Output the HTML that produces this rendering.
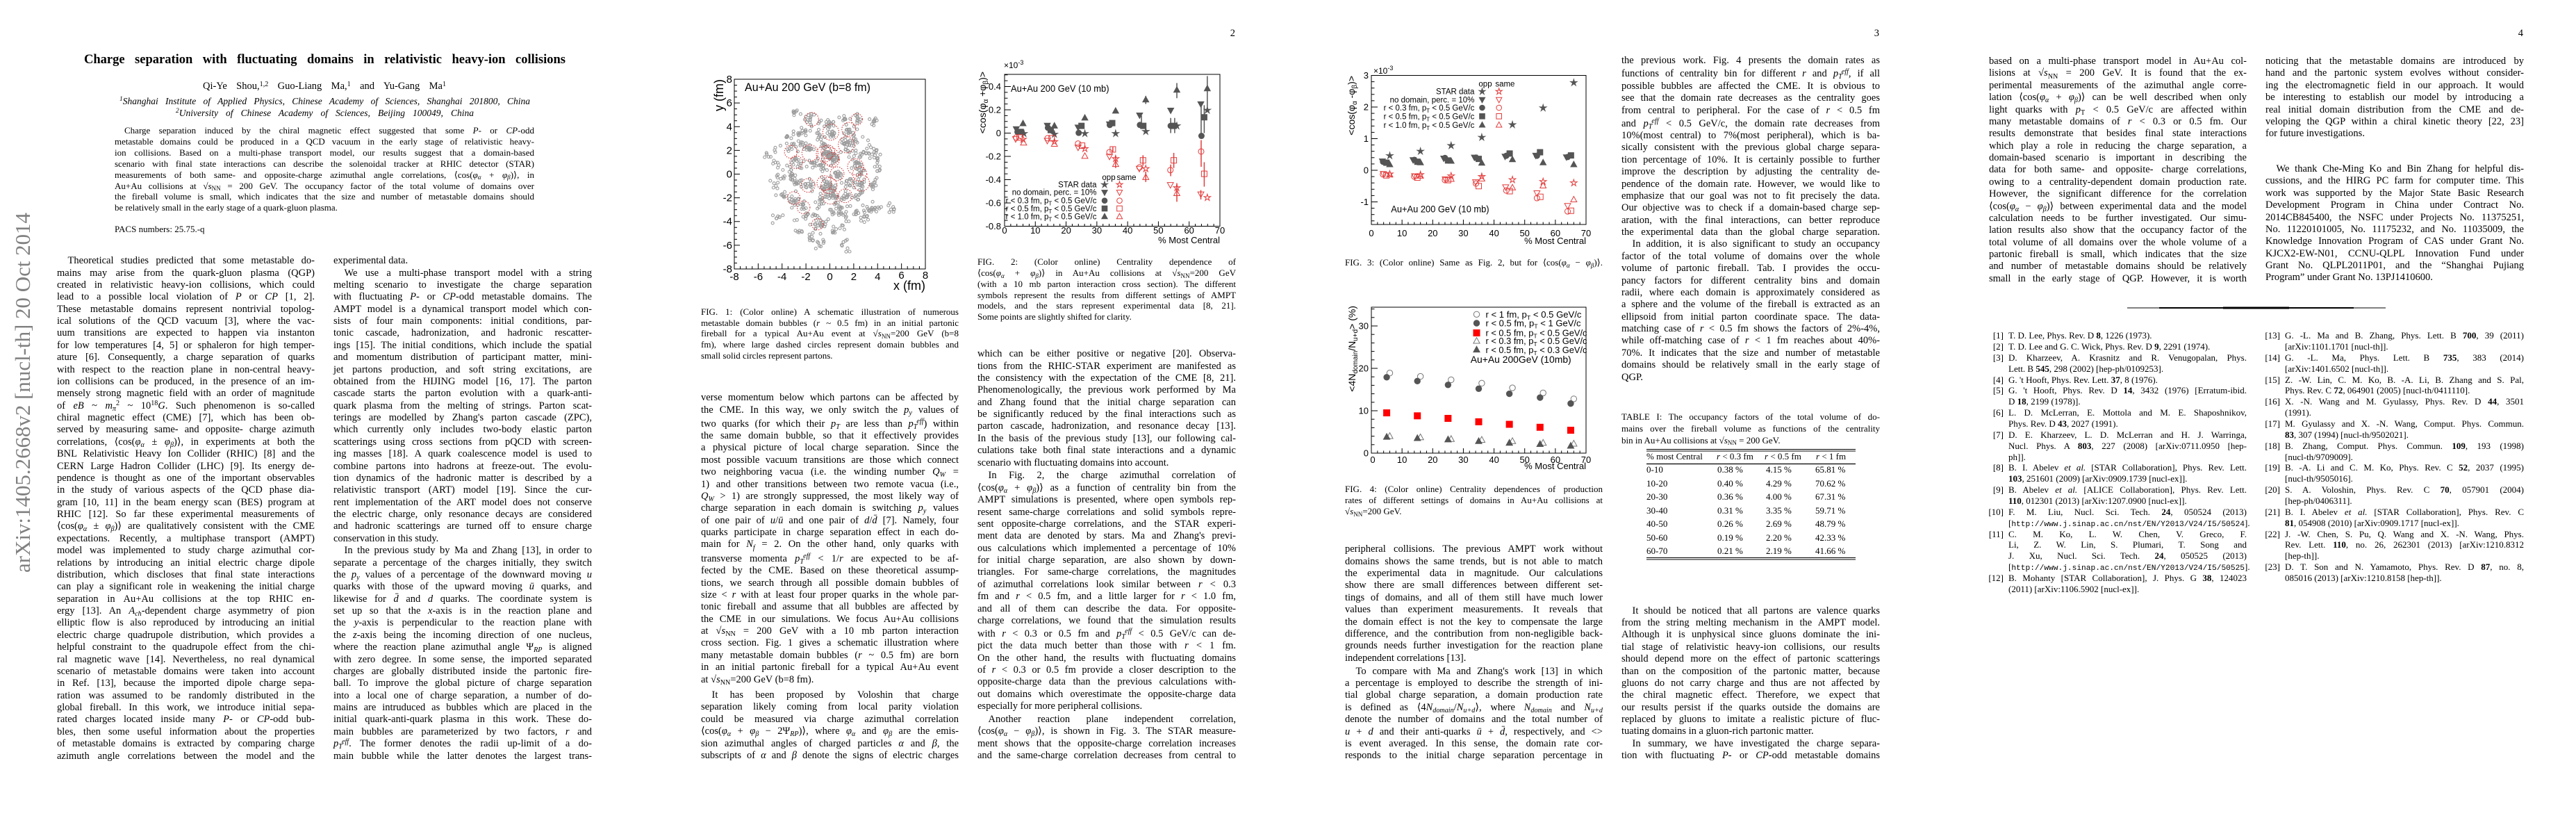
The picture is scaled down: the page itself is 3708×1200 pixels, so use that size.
<!DOCTYPE html>
<html><head><meta charset="utf-8">
<style>
body{margin:0;width:3708px;height:1200px;position:relative;background:#fff;overflow:hidden;font-family:"Liberation Serif","DejaVu Serif",serif;color:#000}
.col{position:absolute}
.col>div{text-align:justify;text-align-last:justify;overflow:visible;position:relative}
.col>div.e{text-align:left;text-align-last:left}
.col>div.i{padding-left:15.5px}
.b{font-size:14.5px}
.b>div{height:17.39px;line-height:17.39px}
.s{font-size:13px}
.s>div{height:15.86px;line-height:15.86px}
.cap>div{height:15.85px;line-height:15.85px}
sub,sup{font-size:70%;line-height:0;vertical-align:baseline;position:relative}
sub{top:0.3em}
sup{top:-0.45em}
tt{font-family:"Liberation Mono",monospace;font-size:11.2px}
.rn{position:absolute;right:calc(100% + 7px);top:0}
.pn{position:absolute;width:40px;text-align:right;font-size:14.5px;line-height:17.39px;top:40px}
.tc{position:absolute;font-size:13px;line-height:16px;white-space:nowrap}
svg text{font-family:"Liberation Sans","DejaVu Sans",sans-serif}
</style></head><body>

<svg id="figs" width="3708" height="1200" style="position:absolute;left:0;top:0">
<text transform="translate(43,824) rotate(-90)" font-size="31" fill="#808080" style="font-family:'Liberation Serif',serif" textLength="518" lengthAdjust="spacingAndGlyphs">arXiv:1405.2668v2 [nucl-th] 20 Oct 2014</text>

<!-- FIG 1 -->
<g id="f1pts"></g>
<rect x="1057" y="114" width="275" height="273" fill="none" stroke="#000" stroke-width="1"/>
<g font-size="15" text-anchor="end">
<text x="1054" y="119">8</text><text x="1054" y="153.1">6</text><text x="1054" y="187.3">4</text><text x="1054" y="221.4">2</text><text x="1054" y="255.5">0</text><text x="1054" y="289.6">-2</text><text x="1054" y="323.7">-4</text><text x="1054" y="357.9">-6</text><text x="1054" y="392">-8</text>
</g>
<g font-size="15" text-anchor="middle">
<text x="1057" y="403">-8</text><text x="1091.4" y="403">-6</text><text x="1125.7" y="403">-4</text><text x="1160.1" y="403">-2</text><text x="1194.5" y="403">0</text><text x="1228.9" y="403">2</text><text x="1263.3" y="403">4</text><text x="1297.6" y="401">6</text><text x="1332" y="401">8</text>
</g>
<text x="1332" y="417" font-size="18" text-anchor="end">x (fm)</text>
<text transform="translate(1041,114) rotate(-90)" font-size="18" text-anchor="end">y (fm)</text>
<text x="1072" y="131" font-size="17" textLength="181" lengthAdjust="spacingAndGlyphs">Au+Au 200 GeV (b=8 fm)</text>

<!-- FIG 2 -->
<rect x="1446" y="107" width="310" height="218.5" fill="none" stroke="#000" stroke-width="1"/>
<g font-size="13" text-anchor="end">
<text x="1441" y="129">0.4</text><text x="1441" y="162.5">0.2</text><text x="1441" y="196">0</text><text x="1441" y="229.5">-0.2</text><text x="1441" y="263">-0.4</text><text x="1441" y="296.5">-0.6</text><text x="1441" y="330">-0.8</text>
</g>
<g font-size="13" text-anchor="middle">
<text x="1446" y="336">0</text><text x="1490.3" y="336">10</text><text x="1534.6" y="336">20</text><text x="1578.9" y="336">30</text><text x="1623.1" y="336">40</text><text x="1667.4" y="336">50</text><text x="1711.7" y="336">60</text><text x="1756" y="336">70</text>
</g>
<text x="1756" y="350" font-size="13" text-anchor="end">% Most Central</text>
<text x="1445" y="98" font-size="12">×10<tspan dy="-5" font-size="9">-3</tspan></text>
<text x="1455" y="132" font-size="14" textLength="141.5" lengthAdjust="spacingAndGlyphs">Au+Au 200 GeV (10 mb)</text>
<text transform="translate(1419,103) rotate(-90)" font-size="14" text-anchor="end">&lt;cos(φ<tspan dy="3" font-size="10">α</tspan><tspan dy="-3"> +φ</tspan><tspan dy="3" font-size="10">β</tspan><tspan dy="-3">)&gt;</tspan></text>
<g font-size="11.5">
<text x="1596" y="259" text-anchor="middle">opp</text><text x="1621.5" y="259" text-anchor="middle">same</text>
<text x="1578.5" y="269.7" text-anchor="end">STAR data</text>
<text x="1578.5" y="280.7" text-anchor="end">no domain, perc. = 10%</text>
<text x="1578.5" y="292.7" text-anchor="end">r &lt; 0.3 fm, p<tspan dy="3" font-size="8">T</tspan><tspan dy="-3"> &lt; 0.5 GeV/c</tspan></text>
<text x="1578.5" y="304" text-anchor="end">r &lt; 0.5 fm, p<tspan dy="3" font-size="8">T</tspan><tspan dy="-3"> &lt; 0.5 GeV/c</tspan></text>
<text x="1578.5" y="315.7" text-anchor="end">r &lt; 1.0 fm, p<tspan dy="3" font-size="8">T</tspan><tspan dy="-3"> &lt; 0.5 GeV/c</tspan></text>
</g>

<!-- FIG 3 -->
<rect x="1974" y="108.5" width="309" height="214.5" fill="none" stroke="#000" stroke-width="1"/>
<g font-size="13" text-anchor="end">
<text x="1970" y="113">3</text><text x="1970" y="158.5">2</text><text x="1970" y="204">1</text><text x="1970" y="249.5">0</text><text x="1970" y="295">-1</text>
</g>
<g font-size="13" text-anchor="middle">
<text x="1974" y="340">0</text><text x="2018.1" y="340">10</text><text x="2062.3" y="340">20</text><text x="2106.4" y="340">30</text><text x="2150.6" y="340">40</text><text x="2194.7" y="340">50</text><text x="2238.9" y="340">60</text><text x="2283" y="340">70</text>
</g>
<text x="2283" y="351" font-size="13" text-anchor="end">% Most Central</text>
<text x="1977" y="106" font-size="12">×10<tspan dy="-5" font-size="9">-3</tspan></text>
<text x="2002.3" y="305.5" font-size="14" textLength="141.3" lengthAdjust="spacingAndGlyphs">Au+Au 200 GeV (10 mb)</text>
<text transform="translate(1950,109) rotate(-90)" font-size="14" text-anchor="end">&lt;cos(φ<tspan dy="3" font-size="10">α</tspan><tspan dy="-3"> -φ</tspan><tspan dy="3" font-size="10">β</tspan><tspan dy="-3">)&gt;</tspan></text>
<g font-size="11.5">
<text x="2138" y="124.7" text-anchor="middle">opp</text><text x="2166.4" y="124.7" text-anchor="middle">same</text>
<text x="2122.4" y="135.7" text-anchor="end">STAR data</text>
<text x="2122.4" y="147.3" text-anchor="end">no domain, perc. = 10%</text>
<text x="2122.4" y="159" text-anchor="end">r &lt; 0.3 fm, p<tspan dy="3" font-size="8">T</tspan><tspan dy="-3"> &lt; 0.5 GeV/c</tspan></text>
<text x="2122.4" y="171.3" text-anchor="end">r &lt; 0.5 fm, p<tspan dy="3" font-size="8">T</tspan><tspan dy="-3"> &lt; 0.5 GeV/c</tspan></text>
<text x="2122.4" y="184" text-anchor="end">r &lt; 1.0 fm, p<tspan dy="3" font-size="8">T</tspan><tspan dy="-3"> &lt; 0.5 GeV/c</tspan></text>
</g>

<!-- FIG 4 -->
<rect x="1974" y="442" width="309" height="210" fill="none" stroke="#000" stroke-width="1"/>
<g font-size="13" text-anchor="end">
<text x="1970" y="473.5">30</text><text x="1970" y="534.5">20</text><text x="1970" y="595.5">10</text><text x="1970" y="656.5">0</text>
</g>
<g font-size="13" text-anchor="middle">
<text x="1976" y="666">0</text><text x="2018.1" y="666">10</text><text x="2062.3" y="666">20</text><text x="2106.4" y="666">30</text><text x="2150.6" y="666">40</text><text x="2194.7" y="666">50</text><text x="2238.9" y="666">60</text><text x="2283" y="666">70</text>
</g>
<text x="2283" y="675" font-size="13" text-anchor="end">% Most Central</text>
<text transform="translate(1951,440) rotate(-90)" font-size="14" text-anchor="end">&lt;4N<tspan dy="3" font-size="10">domain</tspan><tspan dy="-3">/N</tspan><tspan dy="3" font-size="10">u+d</tspan><tspan dy="-3">&gt; (%)</tspan></text>
<g font-size="12.5">
<text x="2138.5" y="456.8" textLength="138" lengthAdjust="spacingAndGlyphs">r &lt; 1 fm, p<tspan dy="3" font-size="8.5">T</tspan><tspan dy="-3"> &lt; 0.5 GeV/c</tspan></text>
<text x="2138.5" y="469.5" textLength="137" lengthAdjust="spacingAndGlyphs">r &lt; 0.5 fm, p<tspan dy="3" font-size="8.5">T</tspan><tspan dy="-3"> &lt; 1 GeV/c</tspan></text>
<text x="2138.5" y="483.5" textLength="146" lengthAdjust="spacingAndGlyphs">r &lt; 0.5 fm, p<tspan dy="3" font-size="8.5">T</tspan><tspan dy="-3"> &lt; 0.5 GeV/c</tspan></text>
<text x="2138.5" y="495.2" textLength="146" lengthAdjust="spacingAndGlyphs">r &lt; 0.3 fm, p<tspan dy="3" font-size="8.5">T</tspan><tspan dy="-3"> &lt; 0.5 GeV/c</tspan></text>
<text x="2138.5" y="507.8" textLength="146" lengthAdjust="spacingAndGlyphs">r &lt; 0.5 fm, p<tspan dy="3" font-size="8.5">T</tspan><tspan dy="-3"> &lt; 0.3 GeV/c</tspan></text>
</g>
<text x="2116.7" y="522" font-size="14" textLength="145" lengthAdjust="spacingAndGlyphs">Au+Au 200GeV (10mb)</text>

<!-- table rules -->
<g stroke="#000">
<line x1="2370" x2="2671" y1="646.5" y2="646.5" stroke-width="1"/>
<line x1="2370" x2="2671" y1="649" y2="649" stroke-width="1"/>
<line x1="2370" x2="2671" y1="667.5" y2="667.5" stroke-width="1.3"/>
<line x1="2370" x2="2671" y1="802.5" y2="802.5" stroke-width="1"/>
<line x1="2370" x2="2671" y1="805" y2="805" stroke-width="1"/>
</g>
<!-- page 4 separator -->
<line x1="3062" x2="3434" y1="443" y2="443" stroke="#000" stroke-width="1"/>
<line x1="3108" x2="3388" y1="443" y2="443" stroke="#000" stroke-width="2"/>
<line x1="3200" x2="3295" y1="443" y2="443" stroke="#000" stroke-width="3"/>
<g id="gfx"></g>
</svg>

<!-- ================= PAGE 1 ================= -->
<div class="col" style="left:121px;top:76px;width:693px;font-size:18.5px;font-weight:bold"><div style="height:21px;line-height:21px">Charge separation with fluctuating domains in relativistic heavy-ion collisions</div></div>
<div class="col b" style="left:292px;top:116.2px;width:350px"><div>Qi-Ye Shou,<sup>1,2</sup> Guo-Liang Ma,<sup>1</sup> and Yu-Gang Ma<sup>1</sup></div></div>
<div class="col" style="left:172px;top:137.5px;width:591px;font-size:13.5px;font-style:italic"><div style="height:16px;line-height:16px"><sup>1</sup>Shanghai Institute of Applied Physics, Chinese Academy of Sciences, Shanghai 201800, China</div></div>
<div class="col" style="left:253px;top:154.5px;width:429px;font-size:13.5px;font-style:italic"><div style="height:16px;line-height:16px"><sup>2</sup>University of Chinese Academy of Sciences, Beijing 100049, China</div></div>

<div class="col s cap" style="left:165px;top:180.4px;width:604px">
<div class="i" style="padding-left:14px">Charge separation induced by the chiral magnetic effect suggested that some <i>P</i>- or <i>CP</i>-odd</div>
<div>metastable domains could be produced in a QCD vacuum in the early stage of relativistic heavy-</div>
<div>ion collisions. Based on a multi-phase transport model, our results suggest that a domain-based</div>
<div>scenario with final state interactions can describe the solenoidal tracker at RHIC detector (STAR)</div>
<div>measurements of both same- and opposite-charge azimuthal angle correlations, ⟨cos(<i>φ<sub>α</sub></i> + <i>φ<sub>β</sub></i>)⟩, in</div>
<div>Au+Au collisions at √<i>s</i><sub>NN</sub> = 200 GeV. The occupancy factor of the total volume of domains over</div>
<div>the fireball volume is small, which indicates that the size and number of metastable domains should</div>
<div class="e">be relatively small in the early stage of a quark-gluon plasma.</div>
</div>
<div class="col s" style="left:165px;top:322px;width:300px"><div class="e">PACS numbers: 25.75.-q</div></div>

<div class="col b" style="left:82px;top:367.2px;width:371px">
<div class="i">Theoretical studies predicted that some metastable do-</div>
<div>mains may arise from the quark-gluon plasma (QGP)</div>
<div>created in relativistic heavy-ion collisions, which could</div>
<div>lead to a possible local violation of <i>P</i> or <i>CP</i> [1, 2].</div>
<div>These metastable domains represent nontrivial topolog-</div>
<div>ical solutions of the QCD vacuum [3], where the vac-</div>
<div>uum transitions are expected to happen via instanton</div>
<div>for low temperatures [4, 5] or sphaleron for high temper-</div>
<div>ature [6]. Consequently, a charge separation of quarks</div>
<div>with respect to the reaction plane in non-central heavy-</div>
<div>ion collisions can be produced, in the presence of an im-</div>
<div>mensely strong magnetic field with an order of magnitude</div>
<div>of <i>eB</i> ~ <i>m</i><sub><i>π</i></sub><sup>2</sup> ~ 10<sup>18</sup><i>G</i>. Such phenomenon is so-called</div>
<div>chiral magnetic effect (CME) [7], which has been ob-</div>
<div>served by measuring same- and opposite- charge azimuth</div>
<div>correlations, ⟨cos(<i>φ<sub>α</sub></i> ± <i>φ<sub>β</sub></i>)⟩, in experiments at both the</div>
<div>BNL Relativistic Heavy Ion Collider (RHIC) [8] and the</div>
<div>CERN Large Hadron Collider (LHC) [9]. Its energy de-</div>
<div>pendence is thought as one of the important observables</div>
<div>in the study of various aspects of the QCD phase dia-</div>
<div>gram [10, 11] in the beam energy scan (BES) program at</div>
<div>RHIC [12]. So far these experimental measurements of</div>
<div>⟨cos(<i>φ<sub>α</sub></i> ± <i>φ<sub>β</sub></i>)⟩ are qualitatively consistent with the CME</div>
<div>expectations. Recently, a multiphase transport (AMPT)</div>
<div>model was implemented to study charge azimuthal cor-</div>
<div>relations by introducing an initial electric charge dipole</div>
<div>distribution, which discloses that final state interactions</div>
<div>can play a significant role in weakening the initial charge</div>
<div>separation in Au+Au collisions at the top RHIC en-</div>
<div>ergy [13]. An <i>A<sub>ch</sub></i>-dependent charge asymmetry of pion</div>
<div>elliptic flow is also reproduced by introducing an initial</div>
<div>electric charge quadrupole distribution, which provides a</div>
<div>helpful constraint to the quadrupole effect from the chi-</div>
<div>ral magnetic wave [14]. Nevertheless, no real dynamical</div>
<div>scenario of metastable domains were taken into account</div>
<div>in Ref. [13], because the imported dipole charge sepa-</div>
<div>ration was assumed to be randomly distributed in the</div>
<div>global fireball. In this work, we introduce initial sepa-</div>
<div>rated charges located inside many <i>P</i>- or <i>CP</i>-odd bub-</div>
<div>bles, then some useful information about the properties</div>
<div>of metastable domains is extracted by comparing charge</div>
<div>azimuth angle correlations between the model and the</div>
</div>

<div class="col b" style="left:480px;top:367.2px;width:372px">
<div class="e">experimental data.</div>
<div class="i">We use a multi-phase transport model with a string</div>
<div>melting scenario to investigate the charge separation</div>
<div>with fluctuating <i>P</i>- or <i>CP</i>-odd metastable domains. The</div>
<div>AMPT model is a dynamical transport model which con-</div>
<div>sists of four main components: initial conditions, par-</div>
<div>tonic cascade, hadronization, and hadronic rescatter-</div>
<div>ings [15]. The initial conditions, which include the spatial</div>
<div>and momentum distribution of participant matter, mini-</div>
<div>jet partons production, and soft string excitations, are</div>
<div>obtained from the HIJING model [16, 17]. The parton</div>
<div>cascade starts the parton evolution with a quark-anti-</div>
<div>quark plasma from the melting of strings. Parton scat-</div>
<div>terings are modelled by Zhang's parton cascade (ZPC),</div>
<div>which currently only includes two-body elastic parton</div>
<div>scatterings using cross sections from pQCD with screen-</div>
<div>ing masses [18]. A quark coalescence model is used to</div>
<div>combine partons into hadrons at freeze-out. The evolu-</div>
<div>tion dynamics of the hadronic matter is described by a</div>
<div>relativistic transport (ART) model [19]. Since the cur-</div>
<div>rent implementation of the ART model does not conserve</div>
<div>the electric charge, only resonance decays are considered</div>
<div>and hadronic scatterings are turned off to ensure charge</div>
<div class="e">conservation in this study.</div>
<div class="i">In the previous study by Ma and Zhang [13], in order to</div>
<div>separate a percentage of the charges initially, they switch</div>
<div>the <i>p<sub>y</sub></i> values of a percentage of the downward moving <i>u</i></div>
<div>quarks with those of the upward moving <i>ū</i> quarks, and</div>
<div>likewise for <i>d̄</i> and <i>d</i> quarks. The coordinate system is</div>
<div>set up so that the <i>x</i>-axis is in the reaction plane and</div>
<div>the <i>y</i>-axis is perpendicular to the reaction plane with</div>
<div>the <i>z</i>-axis being the incoming direction of one nucleus,</div>
<div>where the reaction plane azimuthal angle Ψ<sub><i>RP</i></sub> is aligned</div>
<div>with zero degree. In some sense, the imported separated</div>
<div>charges are globally distributed inside the partonic fire-</div>
<div>ball. To improve the global picture of charge separation</div>
<div>into a local one of charge separation, a number of do-</div>
<div>mains are intruduced as bubbles which are placed in the</div>
<div>initial quark-anti-quark plasma in this work. These do-</div>
<div>main bubbles are parameterized by two factors, <i>r</i> and</div>
<div><i>p</i><sub><i>T</i></sub><sup><i>eff</i></sup>. The former denotes the radii up-limit of a do-</div>
<div>main bubble while the latter denotes the largest trans-</div>
</div>

<!-- ================= PAGE 2 ================= -->
<div class="pn" style="left:1738px">2</div>
<div class="col s cap" style="left:1009px;top:440.7px;width:371px">
<div>FIG. 1: (Color online) A schematic illustration of numerous</div>
<div>metastable domain bubbles (<i>r</i> ~ 0.5 fm) in an initial partonic</div>
<div>fireball for a typical Au+Au event at √<i>s</i><sub>NN</sub>=200 GeV (b=8</div>
<div>fm), where large dashed circles represent domain bubbles and</div>
<div class="e">small solid circles represent partons.</div>
</div>
<div class="col s cap" style="left:1407px;top:369.1px;width:372px">
<div>FIG. 2: (Color online) Centrality dependence of</div>
<div>⟨cos(<i>φ<sub>α</sub></i> + <i>φ<sub>β</sub></i>)⟩ in Au+Au collisions at √<i>s</i><sub>NN</sub>=200 GeV</div>
<div>(with a 10 mb parton interaction cross section). The different</div>
<div>symbols represent the results from different settings of AMPT</div>
<div>models, and the stars represent experimental data [8, 21].</div>
<div class="e">Some points are slightly shifted for clarity.</div>
</div>

<div class="col b" style="left:1009px;top:564.2px;width:371px">
<div>verse momentum below which partons can be affected by</div>
<div>the CME. In this way, we only switch the <i>p<sub>y</sub></i> values of</div>
<div style="margin-top:2.8px">two quarks (for which their <i>p<sub>T</sub></i> are less than <i>p</i><sub><i>T</i></sub><sup><i>eff</i></sup>) within</div>
<div>the same domain bubble, so that it effectively provides</div>
<div>a physical picture of local charge separation. Since the</div>
<div>most possible vacuum transitions are those which connect</div>
<div>two neighboring vacua (i.e. the winding number <i>Q<sub>W</sub></i> =</div>
<div>1) and other transitions between two remote vacua (i.e.,</div>
<div><i>Q<sub>W</sub></i> &gt; 1) are strongly suppressed, the most likely way of</div>
<div>charge separation in each domain is switching <i>p<sub>y</sub></i> values</div>
<div>of one pair of <i>u</i>/<i>ū</i> and one pair of <i>d</i>/<i>d̄</i> [7]. Namely, four</div>
<div>quarks participate in charge separation effect in each do-</div>
<div>main for <i>N<sub>f</sub></i> = 2. On the other hand, only quarks with</div>
<div style="margin-top:2.9px">transverse momenta <i>p</i><sub><i>T</i></sub><sup><i>eff</i></sup> &lt; 1/<i>r</i> are expected to be af-</div>
<div>fected by the CME. Based on these theoretical assump-</div>
<div>tions, we search through all possible domain bubbles of</div>
<div>size &lt; <i>r</i> with at least four proper quarks in the whole par-</div>
<div>tonic fireball and assume that all bubbles are affected by</div>
<div>the CME in our simulations. We focus Au+Au collisions</div>
<div>at √<i>s</i><sub>NN</sub> = 200 GeV with a 10 mb parton interaction</div>
<div>cross section. Fig. 1 gives a schematic illustration where</div>
<div>many metastable domain bubbles (<i>r</i> ~ 0.5 fm) are born</div>
<div>in an initial partonic fireball for a typical Au+Au event</div>
<div class="e">at √<i>s</i><sub>NN</sub>=200 GeV (b=8 fm).</div>
<div class="i" style="margin-top:5.2px">It has been proposed by Voloshin that charge</div>
<div>separation likely coming from local parity violation</div>
<div>could be measured via charge azimuthal correlation</div>
<div>⟨cos(<i>φ<sub>α</sub></i> + <i>φ<sub>β</sub></i> − 2Ψ<sub><i>RP</i></sub>)⟩, where <i>φ<sub>α</sub></i> and <i>φ<sub>β</sub></i> are the emis-</div>
<div>sion azimuthal angles of charged particles <i>α</i> and <i>β</i>, the</div>
<div>subscripts of <i>α</i> and <i>β</i> denote the signs of electric charges</div>
</div>

<div class="col b" style="left:1407px;top:501.2px;width:372px">
<div>which can be either positive or negative [20]. Observa-</div>
<div>tions from the RHIC-STAR experiment are manifested as</div>
<div>the consistency with the expectation of the CME [8, 21].</div>
<div>Phenomenologically, the previous work performed by Ma</div>
<div>and Zhang found that the initial charge separation can</div>
<div>be significantly reduced by the final interactions such as</div>
<div>parton cascade, hadronization, and resonance decay [13].</div>
<div>In the basis of the previous study [13], our following cal-</div>
<div>culations take both final state interactions and a dynamic</div>
<div class="e">scenario with fluctuating domains into account.</div>
<div class="i" style="margin-top:1.5px">In Fig. 2, the charge azimuthal correlation of</div>
<div>⟨cos(<i>φ<sub>α</sub></i> + <i>φ<sub>β</sub></i>)⟩ as a function of centrality bin from the</div>
<div>AMPT simulations is presented, where open symbols rep-</div>
<div>resent same-charge correlations and solid symbols repre-</div>
<div>sent opposite-charge correlations, and the STAR experi-</div>
<div>ment data are denoted by stars. Ma and Zhang's previ-</div>
<div>ous calculations which implemented a percentage of 10%</div>
<div>for initial charge separation, are also shown by down-</div>
<div>triangles. For same-charge correlations, the magnitudes</div>
<div>of azimuthal correlations look similar between <i>r</i> &lt; 0.3</div>
<div>fm and <i>r</i> &lt; 0.5 fm, and a little larger for <i>r</i> &lt; 1.0 fm,</div>
<div>and all of them can describe the data. For opposite-</div>
<div>charge correlations, we found that the simulation results</div>
<div style="margin-top:1.5px">with <i>r</i> &lt; 0.3 or 0.5 fm and <i>p</i><sub><i>T</i></sub><sup><i>eff</i></sup> &lt; 0.5 GeV/c can de-</div>
<div>pict the data much better than those with <i>r</i> &lt; 1 fm.</div>
<div>On the other hand, the results with fluctuating domains</div>
<div>of <i>r</i> &lt; 0.3 or 0.5 fm provide a closer description to the</div>
<div>opposite-charge data than the previous calculations with-</div>
<div>out domains which overestimate the opposite-charge data</div>
<div class="e">especially for more peripheral collisions.</div>
<div class="i" style="margin-top:1.5px">Another reaction plane independent correlation,</div>
<div>⟨cos(<i>φ<sub>α</sub></i> − <i>φ<sub>β</sub></i>)⟩, is shown in Fig. 3. The STAR measure-</div>
<div>ment shows that the opposite-charge correlation increases</div>
<div>and the same-charge correlation decreases from central to</div>
</div>

<!-- ================= PAGE 3 ================= -->
<div class="pn" style="left:2665px">3</div>
<div class="col s cap" style="left:1936px;top:369.9px;width:371px">
<div>FIG. 3: (Color online) Same as Fig. 2, but for ⟨cos(<i>φ<sub>α</sub></i> − <i>φ<sub>β</sub></i>)⟩.</div>
</div>
<div class="col s cap" style="left:1936px;top:696.2px;width:371px">
<div>FIG. 4: (Color online) Centrality dependences of production</div>
<div>rates of different settings of domains in Au+Au collisions at</div>
<div class="e">√<i>s</i><sub>NN</sub>=200 GeV.</div>
</div>

<div class="col b" style="left:1936px;top:782.3px;width:371px">
<div>peripheral collisions. The previous AMPT work without</div>
<div>domains shows the same trends, but is not able to match</div>
<div>the experimental data in magnitude. Our calculations</div>
<div>show there are small differences between different set-</div>
<div>tings of domains, and all of them still have much lower</div>
<div>values than experiment measurements. It reveals that</div>
<div>the domain effect is not the key to compensate the large</div>
<div>difference, and the contribution from non-negligible back-</div>
<div>grounds needs further investigation for the reaction plane</div>
<div class="e">independent correlations [13].</div>
<div class="i" style="margin-top:1.7px">To compare with Ma and Zhang's work [13] in which</div>
<div>a percentage is employed to describe the strength of ini-</div>
<div>tial global charge separation, a domain production rate</div>
<div>is defined as ⟨4<i>N<sub>domain</sub></i>/<i>N<sub>u+d</sub></i>⟩, where <i>N<sub>domain</sub></i> and <i>N<sub>u+d</sub></i></div>
<div>denote the number of domains and the total number of</div>
<div><i>u</i> + <i>d</i> and their anti-quarks <i>ū</i> + <i>d̄</i>, respectively, and &lt;&gt;</div>
<div>is event averaged. In this sense, the domain rate cor-</div>
<div>responds to the initial charge separation percentage in</div>
</div>

<div class="col b" style="left:2334px;top:79.4px;width:372px">
<div>the previous work. Fig. 4 presents the domain rates as</div>
<div style="margin-top:1.7px">functions of centrality bin for different <i>r</i> and <i>p</i><sub><i>T</i></sub><sup><i>eff</i></sup>, if all</div>
<div>possible bubbles are affected the CME. It is obvious to</div>
<div>see that the domain rate decreases as the centrality goes</div>
<div>from central to peripheral. For the case of <i>r</i> &lt; 0.5 fm</div>
<div style="margin-top:1.7px">and <i>p</i><sub><i>T</i></sub><sup><i>eff</i></sup> &lt; 0.5 GeV/c, the domain rate decreases from</div>
<div>10%(most central) to 7%(most peripheral), which is ba-</div>
<div>sically consistent with the previous global charge separa-</div>
<div>tion percentage of 10%. It is certainly possible to further</div>
<div>improve the description by adjusting the centrality de-</div>
<div>pendence of the domain rate. However, we would like to</div>
<div>emphasize that our goal was not to fit precisely the data.</div>
<div>Our objective was to check if a domain-based charge sep-</div>
<div>aration, with the final interactions, can better reproduce</div>
<div>the experimental data than the global charge separation.</div>
<div class="i">In addition, it is also significant to study an occupancy</div>
<div>factor of the total volume of domains over the whole</div>
<div>volume of partonic fireball. Tab. I provides the occu-</div>
<div>pancy factors for different centrality bins and domain</div>
<div>radii, where each domain is approximately considered as</div>
<div>a sphere and the volume of the fireball is extracted as an</div>
<div>ellipsoid from initial parton coordinate space. The data-</div>
<div>matching case of <i>r</i> &lt; 0.5 fm shows the factors of 2%-4%,</div>
<div>while off-matching case of <i>r</i> &lt; 1 fm reaches about 40%-</div>
<div>70%. It indicates that the size and number of metastable</div>
<div>domains should be relatively small in the early stage of</div>
<div class="e">QGP.</div>
</div>

<div class="col s" style="left:2334px;top:590.5px;width:372px">
<div style="height:17px;line-height:17px">TABLE I: The occupancy factors of the total volume of do-</div>
<div style="height:17px;line-height:17px">mains over the fireball volume as functions of the centrality</div>
<div class="e" style="height:17px;line-height:17px">bin in Au+Au collisions at √<i>s</i><sub>NN</sub> = 200 GeV.</div>
</div>

<div class="tc" style="left:2370px;top:648.8px">% most Central</div>
<div class="tc" style="left:2471px;top:648.8px"><i>r</i> &lt; 0.3 fm</div>
<div class="tc" style="left:2540px;top:648.8px"><i>r</i> &lt; 0.5 fm</div>
<div class="tc" style="left:2614px;top:648.8px"><i>r</i> &lt; 1 fm</div>

<div class="tc" style="left:2370px;top:668.3px">0-10</div><div class="tc" style="left:2472px;top:668.3px">0.38 %</div><div class="tc" style="left:2542px;top:668.3px">4.15 %</div><div class="tc" style="left:2613px;top:668.3px">65.81 %</div>
<div class="tc" style="left:2370px;top:687.8px">10-20</div><div class="tc" style="left:2472px;top:687.8px">0.40 %</div><div class="tc" style="left:2542px;top:687.8px">4.29 %</div><div class="tc" style="left:2613px;top:687.8px">70.62 %</div>
<div class="tc" style="left:2370px;top:707.3px">20-30</div><div class="tc" style="left:2472px;top:707.3px">0.36 %</div><div class="tc" style="left:2542px;top:707.3px">4.00 %</div><div class="tc" style="left:2613px;top:707.3px">67.31 %</div>
<div class="tc" style="left:2370px;top:726.5px">30-40</div><div class="tc" style="left:2472px;top:726.5px">0.31 %</div><div class="tc" style="left:2542px;top:726.5px">3.35 %</div><div class="tc" style="left:2613px;top:726.5px">59.71 %</div>
<div class="tc" style="left:2370px;top:746px">40-50</div><div class="tc" style="left:2472px;top:746px">0.26 %</div><div class="tc" style="left:2542px;top:746px">2.69 %</div><div class="tc" style="left:2613px;top:746px">48.79 %</div>
<div class="tc" style="left:2370px;top:765.5px">50-60</div><div class="tc" style="left:2472px;top:765.5px">0.19 %</div><div class="tc" style="left:2542px;top:765.5px">2.20 %</div><div class="tc" style="left:2613px;top:765.5px">42.33 %</div>
<div class="tc" style="left:2370px;top:785px">60-70</div><div class="tc" style="left:2472px;top:785px">0.21 %</div><div class="tc" style="left:2542px;top:785px">2.19 %</div><div class="tc" style="left:2613px;top:785px">41.66 %</div>

<div class="col b" style="left:2334px;top:870.7px;width:372px">
<div class="i">It should be noticed that all partons are valence quarks</div>
<div>from the string melting mechanism in the AMPT model.</div>
<div>Although it is unphysical since gluons dominate the ini-</div>
<div>tial stage of relativistic heavy-ion collisions, our results</div>
<div>should depend more on the effect of partonic scatterings</div>
<div>than on the composition of the partonic matter, because</div>
<div>gluons do not carry charge and thus are not affected by</div>
<div>the chiral magnetic effect. Therefore, we expect that</div>
<div>our results persist if the quarks outside the domains are</div>
<div>replaced by gluons to imitate a realistic picture of fluc-</div>
<div class="e">tuating domains in a gluon-rich partonic matter.</div>
<div class="i">In summary, we have investigated the charge separa-</div>
<div>tion with fluctuating <i>P</i>- or <i>CP</i>-odd metastable domains</div>
</div>

<!-- ================= PAGE 4 ================= -->
<div class="pn" style="left:3592px">4</div>
<div class="col b" style="left:2863px;top:80.1px;width:371px">
<div>based on a multi-phase transport model in Au+Au col-</div>
<div>lisions at √<i>s</i><sub>NN</sub> = 200 GeV. It is found that the ex-</div>
<div>perimental measurements of the azimuthal angle corre-</div>
<div>lation ⟨cos(<i>φ<sub>α</sub></i> + <i>φ<sub>β</sub></i>)⟩ can be well described when only</div>
<div>light quarks with <i>p</i><sub>T</sub> &lt; 0.5 GeV/c are affected within</div>
<div>many metastable domains of <i>r</i> &lt; 0.3 or 0.5 fm. Our</div>
<div>results demonstrate that besides final state interactions</div>
<div>which play a role in reducing the charge separation, a</div>
<div>domain-based scenario is important in describing the</div>
<div>data for both same- and opposite- charge correlations,</div>
<div>owing to a centrality-dependent domain production rate.</div>
<div>However, the significant difference for the correlation</div>
<div>⟨cos(<i>φ<sub>α</sub></i> − <i>φ<sub>β</sub></i>)⟩ between experimental data and the model</div>
<div>calculation needs to be further investigated. Our simu-</div>
<div>lation results also show that the occupancy factor of the</div>
<div>total volume of all domains over the whole volume of a</div>
<div>partonic fireball is small, which indicates that the size</div>
<div>and number of metastable domains should be relatively</div>
<div>small in the early stage of QGP. However, it is worth</div>
</div>

<div class="col b" style="left:3261px;top:80.1px;width:372px">
<div>noticing that the metastable domains are introduced by</div>
<div>hand and the partonic system evolves without consider-</div>
<div>ing the electromagnetic field in our approach. It would</div>
<div>be interesting to establish our model by introducing a</div>
<div>real initial domain distribution from the CME and de-</div>
<div>veloping the QGP within a chiral kinetic theory [22, 23]</div>
<div class="e">for future investigations.</div>
</div>
<div class="col b" style="left:3261px;top:235.1px;width:372px">
<div class="i">We thank Che-Ming Ko and Bin Zhang for helpful dis-</div>
<div>cussions, and the HIRG PC farm for computer time. This</div>
<div>work was supported by the Major State Basic Research</div>
<div>Development Program in China under Contract No.</div>
<div>2014CB845400, the NSFC under Projects No. 11375251,</div>
<div>No. 11220101005, No. 11175232, and No. 11035009, the</div>
<div>Knowledge Innovation Program of CAS under Grant No.</div>
<div>KJCX2-EW-N01, CCNU-QLPL Innovation Fund under</div>
<div>Grant No. QLPL2011P01, and the “Shanghai Pujiang</div>
<div class="e">Program” under Grant No. 13PJ1410600.</div>
</div>

<div class="col s" style="left:2891px;top:475.1px;width:343px">
<div class="e"><span class="rn">[1]</span>T. D. Lee, Phys. Rev. D <b>8</b>, 1226 (1973).</div>
<div class="e"><span class="rn">[2]</span>T. D. Lee and G. C. Wick, Phys. Rev. D <b>9</b>, 2291 (1974).</div>
<div><span class="rn">[3]</span>D. Kharzeev, A. Krasnitz and R. Venugopalan, Phys.</div>
<div class="e">Lett. B <b>545</b>, 298 (2002) [hep-ph/0109253].</div>
<div class="e"><span class="rn">[4]</span>G. 't Hooft, Phys. Rev. Lett. <b>37</b>, 8 (1976).</div>
<div><span class="rn">[5]</span>G. 't Hooft, Phys. Rev. D <b>14</b>, 3432 (1976) [Erratum-ibid.</div>
<div class="e">D <b>18</b>, 2199 (1978)].</div>
<div><span class="rn">[6]</span>L. D. McLerran, E. Mottola and M. E. Shaposhnikov,</div>
<div class="e">Phys. Rev. D <b>43</b>, 2027 (1991).</div>
<div><span class="rn">[7]</span>D. E. Kharzeev, L. D. McLerran and H. J. Warringa,</div>
<div>Nucl. Phys. A <b>803</b>, 227 (2008) [arXiv:0711.0950 [hep-</div>
<div class="e">ph]].</div>
<div><span class="rn">[8]</span>B. I. Abelev <i>et al.</i> [STAR Collaboration], Phys. Rev. Lett.</div>
<div class="e"><b>103</b>, 251601 (2009) [arXiv:0909.1739 [nucl-ex]].</div>
<div><span class="rn">[9]</span>B. Abelev <i>et al.</i> [ALICE Collaboration], Phys. Rev. Lett.</div>
<div class="e"><b>110</b>, 012301 (2013) [arXiv:1207.0900 [nucl-ex]].</div>
<div><span class="rn">[10]</span>F. M. Liu, Nucl. Sci. Tech. <b>24</b>, 050524 (2013)</div>
<div class="e">[<tt>http://www.j.sinap.ac.cn/nst/EN/Y2013/V24/I5/50524</tt>].</div>
<div><span class="rn">[11]</span>C. M. Ko, L. W. Chen, V. Greco, F.</div>
<div>Li, Z. W. Lin, S. Plumari, T. Song and</div>
<div>J. Xu, Nucl. Sci. Tech. <b>24</b>, 050525 (2013)</div>
<div class="e">[<tt>http://www.j.sinap.ac.cn/nst/EN/Y2013/V24/I5/50525</tt>].</div>
<div><span class="rn">[12]</span>B. Mohanty [STAR Collaboration], J. Phys. G <b>38</b>, 124023</div>
<div class="e">(2011) [arXiv:1106.5902 [nucl-ex]].</div>
</div>

<div class="col s" style="left:3289px;top:475.1px;width:344px">
<div><span class="rn">[13]</span>G. -L. Ma and B. Zhang, Phys. Lett. B <b>700</b>, 39 (2011)</div>
<div class="e">[arXiv:1101.1701 [nucl-th]].</div>
<div><span class="rn">[14]</span>G. -L. Ma, Phys. Lett. B <b>735</b>, 383 (2014)</div>
<div class="e">[arXiv:1401.6502 [nucl-th]].</div>
<div><span class="rn">[15]</span>Z. -W. Lin, C. M. Ko, B. -A. Li, B. Zhang and S. Pal,</div>
<div class="e">Phys. Rev. C <b>72</b>, 064901 (2005) [nucl-th/0411110].</div>
<div><span class="rn">[16]</span>X. -N. Wang and M. Gyulassy, Phys. Rev. D <b>44</b>, 3501</div>
<div class="e">(1991).</div>
<div><span class="rn">[17]</span>M. Gyulassy and X. -N. Wang, Comput. Phys. Commun.</div>
<div class="e"><b>83</b>, 307 (1994) [nucl-th/9502021].</div>
<div><span class="rn">[18]</span>B. Zhang, Comput. Phys. Commun. <b>109</b>, 193 (1998)</div>
<div class="e">[nucl-th/9709009].</div>
<div><span class="rn">[19]</span>B. -A. Li and C. M. Ko, Phys. Rev. C <b>52</b>, 2037 (1995)</div>
<div class="e">[nucl-th/9505016].</div>
<div><span class="rn">[20]</span>S. A. Voloshin, Phys. Rev. C <b>70</b>, 057901 (2004)</div>
<div class="e">[hep-ph/0406311].</div>
<div><span class="rn">[21]</span>B. I. Abelev <i>et al.</i> [STAR Collaboration], Phys. Rev. C</div>
<div class="e"><b>81</b>, 054908 (2010) [arXiv:0909.1717 [nucl-ex]].</div>
<div><span class="rn">[22]</span>J. -W. Chen, S. Pu, Q. Wang and X. -N. Wang, Phys.</div>
<div>Rev. Lett. <b>110</b>, no. 26, 262301 (2013) [arXiv:1210.8312</div>
<div class="e">[hep-th]].</div>
<div><span class="rn">[23]</span>D. T. Son and N. Yamamoto, Phys. Rev. D <b>87</b>, no. 8,</div>
<div class="e">085016 (2013) [arXiv:1210.8158 [hep-th]].</div>
</div>

<script>
(function(){
/* justification of lines */
var lines=document.querySelectorAll('.col>div');
for(var k=0;k<lines.length;k++){
  var d=lines[k];var cs=getComputedStyle(d);
  var W=d.clientWidth-parseFloat(cs.paddingLeft)-parseFloat(cs.paddingRight);
  d.style.whiteSpace='nowrap';d.style.textAlign='left';d.style.textAlignLast='left';
  var sp=document.createElement('span');
  while(d.firstChild)sp.appendChild(d.firstChild);
  d.appendChild(sp);
  var just=!d.classList.contains('e');
  var w=sp.getBoundingClientRect().width;
  var n=(sp.textContent.trim().match(/\s+/g)||[]).length;
  if(just&&n>0){var ws=(W-w)/n;if(ws<-2.5)ws=-2.5;sp.style.wordSpacing=ws+'px';w=sp.getBoundingClientRect().width;}
  if(w>W+1&&just){sp.style.display='inline-block';sp.style.transformOrigin='0 50%';sp.style.transform='scaleX('+(W/w)+')';}
}
/* graphics */
var NS='http://www.w3.org/2000/svg';
var G=document.getElementById('gfx');var P1=document.getElementById('f1pts');
function E(t,a,p){var e=document.createElementNS(NS,t);for(var q in a)e.setAttribute(q,a[q]);(p||G).appendChild(e);return e;}
function L(x1,y1,x2,y2,w,c){E('line',{x1:x1,y1:y1,x2:x2,y2:y2,stroke:c||'#000','stroke-width':w||1});}
function M(t,x,y,s,fill,col){
  var f=fill?col:'none',a={fill:f,stroke:col,'stroke-width':1};
  if(t=='c'){a.cx=x;a.cy=y;a.r=s;E('circle',a);}
  else if(t=='s'){a.x=x-s;a.y=y-s;a.width=2*s;a.height=2*s;E('rect',a);}
  else if(t=='u'){a.points=x+','+(y-s*1.2)+' '+(x-s*1.1)+','+(y+s*0.8)+' '+(x+s*1.1)+','+(y+s*0.8);E('polygon',a);}
  else if(t=='d'){a.points=x+','+(y+s*1.2)+' '+(x-s*1.1)+','+(y-s*0.8)+' '+(x+s*1.1)+','+(y-s*0.8);E('polygon',a);}
  else{var pts=[];for(var i=0;i<10;i++){var R=(i%2?0.45:1.25)*s,an=-Math.PI/2+i*Math.PI/5;pts.push((x+R*Math.cos(an)).toFixed(2)+','+(y+R*Math.sin(an)).toFixed(2));}a.points=pts.join(' ');E('polygon',a);}
}
/* FIG1 */
var X1=function(v){return 1194.5+17.19*v},Y1=function(v){return 250.5-17.06*v};
for(var v=-8;v<=8.001;v+=0.5){var mj=Math.abs(v%2)<1e-6;var l=mj?8:4;L(1057,Y1(v),1057+l,Y1(v),1);L(X1(v),387,X1(v),387-l,1);}
var seed=12345;function rnd(){seed=(seed*16807)%2147483647;return (seed-1)/2147483646;}
function ga(){var u=rnd()||1e-9,w=rnd();return Math.sqrt(-2*Math.log(u))*Math.cos(2*Math.PI*w);}
var cl=[[-3.07,5.2,8],[-1.62,4.81,10],[0.12,4.23,12],[1.29,4.72,8],[2.35,4.62,10],[3.71,4.52,6],[-2.69,3.45,8],[-2.2,3.54,8],[-0.85,3.25,10],[0.12,3.54,14],[1.58,3.74,12],[-3.46,3.15,6],[-4.14,2.27,5],[-3.17,2.18,10],[-2.3,2.57,8],[-1.62,2.08,14],[-0.46,2.37,10],[-0.17,1.59,30],[0.3,1.4,20],[1.38,2.57,14],[1.87,1.98,10],[2.84,1.79,8],[3.81,1.98,6],[-5.21,1.59,5],[-4.53,0.81,6],[-2.78,1.0,12],[-1.62,0.81,10],[-0.85,0.61,10],[0.61,0.03,12],[2.16,0.71,14],[2.64,0.22,10],[3.61,1.39,10],[-4.05,-0.17,8],[-3.17,-0.36,10],[-2.59,-0.75,10],[-1.82,-0.95,12],[-0.46,-0.75,16],[0.12,-1.05,16],[1.48,-0.75,10],[2.64,-0.75,14],[3.61,-0.95,10],[-3.75,-1.93,8],[-2.98,-2.12,12],[-2.2,-2.71,10],[-0.46,-1.83,12],[0.32,-1.93,14],[1.29,-1.83,12],[2.26,-1.83,10],[-0.85,-2.42,8],[0.71,-2.71,10],[1.09,-3.3,10],[3.23,-2.91,10],[3.81,-2.71,8],[5.26,-2.91,8],[-4.34,-3.69,8],[-1.04,-4.27,10],[-0.46,-4.08,6],[0.51,-4.66,8],[-2.59,-4.86,6],[-1.62,-5.25,8],[-0.85,-5.84,8],[1.29,-5.74,6],[1.58,-6.23,3],[2.26,-3.3,8],[0.12,-3.3,8],[-2.1,-3.4,6],[3.7,4.4,4],[4.0,0.5,6],[-4.6,-0.9,6],[3.0,-3.6,6],[-1.2,-3.6,6],[2.0,2.9,6],[-3.4,0.3,6]];
for(var i=0;i<cl.length;i++){var c=cl[i];for(var j=0;j<c[2];j++){E('circle',{cx:X1(c[0]+ga()*0.22).toFixed(1),cy:Y1(c[1]+ga()*0.22).toFixed(1),r:2,fill:'none',stroke:'#9c9c9c','stroke-width':1.1},P1);}}
for(var j=0;j<90;j++){var a=rnd()*2*Math.PI,r=Math.sqrt(rnd());E('circle',{cx:X1(r*4.2*Math.cos(a)).toFixed(1),cy:Y1(-0.3+r*5.4*Math.sin(a)).toFixed(1),r:2,fill:'none',stroke:'#9c9c9c','stroke-width':1.1},P1);}
var rc=[[-1.52,4.62,0.58],[2.26,4.62,0.48],[0.08,3.54,0.68],[1.58,3.78,0.58],[1.38,2.47,0.68],[-3.27,1.88,0.54],[-2.82,1.0,0.54],[-1.66,1.78,0.68],[-0.46,1.69,0.68],[0.03,1.49,0.74],[-0.17,1.88,0.58],[0.2,1.2,0.6],[2.16,0.61,0.68],[0.61,0.03,0.58],[2.64,-0.75,0.68],[-0.46,-0.75,0.62],[-0.07,-0.95,0.68],[-1.82,-0.95,0.58],[0.03,-1.89,0.64],[1.29,-1.83,0.58],[-3.02,-2.02,0.54],[-2.2,-2.81,0.54],[-1.04,-4.23,0.48],[2.5,0.0,0.6]];
for(var i=0;i<rc.length;i++){var c=rc[i];E('circle',{cx:X1(c[0]),cy:Y1(c[1]),r:(c[2]*17.1).toFixed(1),fill:'none',stroke:'#d03a3a','stroke-width':1.1,'stroke-dasharray':'1.5,1.8'},P1);}
/* FIG2 */
var X2=function(c){return 1446+c*4.4286},Y2=function(v){return 191.5-v*167.5};
for(var k=-16;k<=10;k++){var v=k*0.05;if(v>0.5)break;var mj=(k%4==0);L(1446,Y2(v),1446+(mj?9:4.5),Y2(v));}
for(var c=0;c<=70;c+=2){var mj=(c%10==0);L(X2(c),325.5,X2(c),325.5-(mj?7:3.5));}
var DK='#555',RD='#e33b3b';
var eb2=[[DK,63.9,-0.02,0.23],[DK,65.9,0.2,0.49],[DK,64.9,0.0,0.24],[DK,56,0.3,0.43],[DK,54,0.0,0.13],[DK,55.3,0.0,0.13],[DK,44.5,0.04,0.15],[DK,45.9,0.25,0.32],[RD,63.9,-0.06,-0.29],[RD,64.9,-0.25,-0.46],[RD,56,-0.43,-0.59],[RD,55,-0.17,-0.3],[RD,54,-0.27,-0.37],[RD,45,-0.19,-0.28],[RD,45.9,-0.33,-0.42],[RD,35.2,-0.12,-0.16],[RD,36.1,-0.2,-0.3],[RD,63.8,-0.49,-0.57]];
for(var i=0;i<eb2.length;i++){var e=eb2[i];L(X2(e[1]),Y2(e[2]),X2(e[1]),Y2(e[3]),1.5,e[0]);}
var o2=[['d',3.8,0.036],['c',4.2,0.01],['s',5.2,0.01],['u',6,0.082],['st',6.3,-0.004],['d',13.9,0.066],['c',14.1,0.046],['s',15,0.026],['u',16.2,0.062],['st',16.2,-0.01],['d',23.9,0.05],['c',24.1,0.002],['s',25,0.062],['u',26.1,0.13],['st',26.1,-0.004],['d',34.1,0.078],['c',34.2,0.07],['s',35,0.086],['u',36.1,0.19],['st',36.1,-0.004],['d',43.9,0.154],['c',44,0.07],['s',45.1,0.062],['u',45.9,0.286],['st',45.9,0.014],['d',54,0.196],['c',54,0.062],['s',55,0.062],['u',56,0.37],['st',56,0.062],['d',63.8,0.25],['c',64,-0.024],['s',64.9,0.136],['u',65.9,0.382],['st',65.9,0.196]];
var s2=[['c',3.8,-0.038],['d',3.6,-0.05],['s',4.9,-0.038],['st',6,-0.054],['u',6.2,-0.084],['c',14,-0.044],['d',13.9,-0.064],['s',15.3,-0.044],['st',16.2,-0.074],['u',16.2,-0.094],['c',23.9,-0.09],['d',23.9,-0.122],['s',25.2,-0.108],['st',26.1,-0.134],['u',26.1,-0.198],['c',34.1,-0.164],['d',34.1,-0.2],['s',35.2,-0.14],['st',36.1,-0.22],['u',36.1,-0.268],['c',43.9,-0.294],['d',43.8,-0.304],['s',45,-0.234],['st',45.9,-0.306],['u',45.9,-0.38],['c',53.9,-0.318],['d',53.9,-0.444],['s',55,-0.234],['st',56,-0.47],['u',56,-0.518],['c',63.9,-0.158],['d',63.8,-0.524],['s',64.9,-0.35],['st',65.9,-0.554]];
for(var i=0;i<o2.length;i++)M(o2[i][0],X2(o2[i][1]),Y2(o2[i][2]),4,true,DK);
for(var i=0;i<s2.length;i++)M(s2[i][0],X2(s2[i][1]),Y2(s2[i][2]),4,false,RD);
var lg=['st','d','c','s','u'],ly2=[265.7,276.7,288.7,300,311.7];
for(var i=0;i<5;i++){M(lg[i],1590,ly2[i],3.8,true,DK);M(lg[i],1611.5,ly2[i],3.8,false,RD);}
/* FIG3 */
var X3=function(c){return 1974+c*4.4143},Y3=function(v){return 245-v*45.5};
for(var k=-8;k<=15;k++){var v=k*0.2;var mj=(k%5==0);L(1974,Y3(v),1974+(mj?9:4.5),Y3(v));}
for(var c=0;c<=70;c+=2){var mj=(c%10==0);L(X3(c),323,X3(c),323-(mj?7:3.5));}
var o3=[['d',3.6,0.29],['c',3.8,0.27],['s',4.9,0.24],['u',6,0.18],['st',6,0.46],['d',13.6,0.33],['c',14,0.33],['s',15,0.27],['u',16,0.24],['st',16,0.6],['d',23.6,0.38],['c',24,0.39],['s',25,0.31],['u',26,0.29],['st',26,0.78],['d',33.6,0.41],['c',34.1,0.4],['s',35,0.36],['u',36,0.23],['st',36,1.04],['d',43.6,0.44],['c',44,0.46],['s',45.1,0.53],['u',46,0.34],['st',46,1.44],['d',53.6,0.47],['c',54,0.46],['s',55,0.57],['u',56,0.24],['st',56,1.97],['d',63.6,0.42],['c',64,0.42],['s',65.1,0.47],['u',66,0.18],['st',66,2.77]];
var s3=[['c',3.8,-0.13],['d',3.9,-0.11],['s',4.9,-0.16],['u',6,-0.14],['st',6,-0.12],['c',14,-0.2],['d',14.1,-0.18],['s',15,-0.23],['u',16,-0.18],['st',16,-0.14],['c',24,-0.31],['d',24.1,-0.28],['s',25,-0.31],['u',26,-0.28],['st',26,-0.18],['c',34.1,-0.42],['d',34,-0.37],['s',35,-0.5],['u',36,-0.27],['st',36,-0.2],['c',44,-0.64],['d',43.8,-0.53],['s',45.1,-0.66],['u',46,-0.55],['st',46,-0.3],['c',54,-0.88],['d',54,-0.72],['s',55.1,-0.84],['u',56,-0.49],['st',56,-0.36],['c',64,-1.3],['d',64,-1.12],['s',65.1,-1.28],['u',66,-0.93],['st',66,-0.4]];
for(var i=0;i<o3.length;i++)M(o3[i][0],X3(o3[i][1]),Y3(o3[i][2]),4,true,DK);
for(var i=0;i<s3.length;i++)M(s3[i][0],X3(s3[i][1]),Y3(s3[i][2]),4,false,RD);
var ly3=[131.7,143.3,155,167.3,180];
for(var i=0;i<5;i++){M(lg[i],2133.5,ly3[i],3.8,true,DK);M(lg[i],2157.7,ly3[i],3.8,false,RD);}
/* FIG4 */
var Y4=function(v){return 652-v*6.1};
for(var v=0;v<=34;v+=2){var mj=(v%10==0);L(1974,Y4(v),1974+(mj?9:4.5),Y4(v));}
for(var c=0;c<=70;c+=2){var mj=(c%10==0);L(X3(c),652,X3(c),652-(mj?7:3.5));}
var oc=[[6,18.9],[16,18.1],[26,17.3],[36,16.5],[46,15.4],[56,14.2],[66,12.8]],sc=[[5,17.9],[15,17.0],[25,16.1],[35,15.2],[45,14.0],[55,13.1],[65,11.7]],rs=[[5,9.5],[15,8.8],[25,8.2],[35,7.4],[45,6.8],[55,6.1],[65,5.4]],ot=[[6,4.0],[16,3.7],[26,3.3],[36,3.1],[46,2.8],[56,2.4],[66,2.2]],st=[[5,3.8],[15,3.5],[25,3.2],[35,2.8],[45,2.4],[55,2.1],[65,1.7]];
for(var i=0;i<7;i++){M('c',X3(oc[i][0]),Y4(oc[i][1]),4.2,false,'#777');M('c',X3(sc[i][0]),Y4(sc[i][1]),4.2,true,DK);M('s',X3(rs[i][0]),Y4(rs[i][1]),4.5,true,'#f00');M('u',X3(ot[i][0]),Y4(ot[i][1]),4.2,false,'#777');M('u',X3(st[i][0]),Y4(st[i][1]),4.2,true,DK);}
M('c',2125.5,452.3,4.2,false,'#777');M('c',2125.5,465,4.2,true,DK);M('s',2125.5,479,4.5,true,'#f00');M('u',2125.5,490.7,4.2,false,'#777');M('u',2125.5,503.3,4.2,true,DK);
})();
</script>
</body></html>
